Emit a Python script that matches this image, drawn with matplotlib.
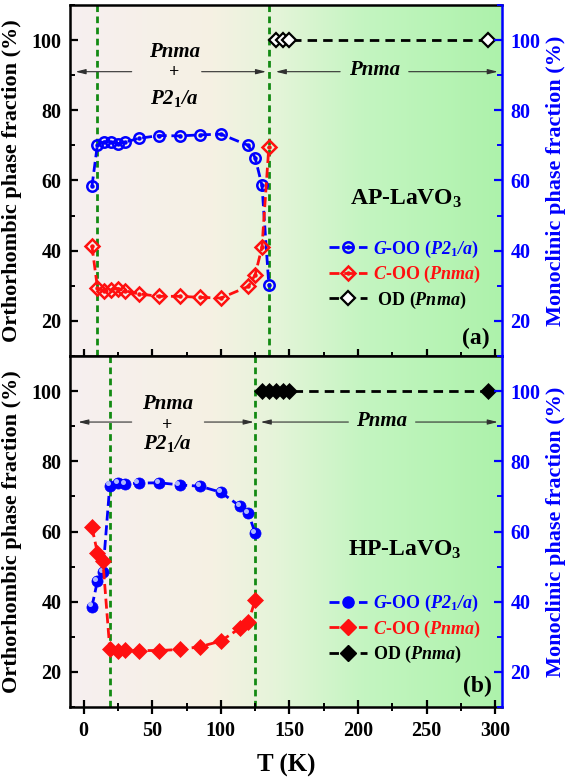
import numpy as np
import matplotlib
matplotlib.use("Agg")
import matplotlib.pyplot as plt
from matplotlib.colors import LinearSegmentedColormap
from matplotlib.legend_handler import HandlerTuple
from matplotlib.lines import Line2D
from matplotlib.ticker import MultipleLocator
from matplotlib.transforms import ScaledTranslation

plt.rcParams.update({
    "font.family": ["Liberation Serif", "DejaVu Serif"],
    "font.weight": "bold",
    "axes.labelweight": "bold",
    "mathtext.fontset": "custom",
    "mathtext.rm": "Liberation Serif:bold",
    "mathtext.it": "Liberation Serif:italic:bold",
    "mathtext.bf": "Liberation Serif:bold",
    "mathtext.bfit": "Liberation Serif:italic:bold",
})

# ---- (a) ambient-pressure LaVO3 ----
T_a = [6, 10, 15, 20, 25, 30, 40, 55, 70, 85, 100, 120, 125, 130, 135]
goo_a = [58.3, 70.2, 71.0, 71.0, 70.5, 70.9, 72.0, 72.8, 72.7, 73.0, 73.2, 70.0, 66.5, 58.6, 30.2]
coo_a = [41.4, 29.5, 28.4, 28.9, 29.2, 28.6, 27.7, 27.0, 27.0, 26.7, 26.5, 29.8, 33.1, 41.0, 69.5]
T_od_a = [140, 145, 150, 295]
od_a = [100, 100, 100, 100]
trans_a = [10, 135]

# ---- (b) high-pressure LaVO3 ----
T_b = [6, 10, 14, 19, 25, 30, 40, 55, 70, 85, 100, 114, 120, 125]
goo_b = [38.6, 45.9, 48.5, 73.1, 73.8, 73.6, 73.8, 73.9, 73.3, 72.9, 71.2, 67.2, 65.3, 59.6]
coo_b = [61.2, 54.0, 51.5, 26.6, 26.1, 26.2, 26.1, 26.1, 26.4, 27.2, 28.8, 32.5, 34.2, 40.4]
T_od_b = [130, 135, 140, 145, 150, 295]
od_b = [100, 100, 100, 100, 100, 100]
trans_b = [19, 125]

x_ticks = [0, 50, 100, 150, 200, 250, 300]
y_ticks = [20, 40, 60, 80, 100]

BLUE = "#0000ff"
RED = "#ff1010"
GREEN = "#138a13"

bg_cmap = LinearSegmentedColormap.from_list(
    "bg", [(0.0, "#f7eff0"), (0.33, "#f5f1e3"), (0.47, "#e6f4da"),
           (0.68, "#c4f5c1"), (1.0, "#adf2ab")])

fig = plt.figure(figsize=(5.69, 7.81), dpi=100)
ax_a = fig.add_axes([0.1230, 0.5442, 0.7592, 0.4494])
ax_b = fig.add_axes([0.1230, 0.0947, 0.7592, 0.4494])

lbl_l = "Orthorhombic phase fraction (%)"
lbl_r = "Monoclinic phase fraction (%)"


def arrow(ax, x0, x1, y):
    ax.annotate("", xy=(x1, y), xytext=(x0, y),
                arrowprops=dict(arrowstyle="-|>,head_length=0.6,head_width=0.15",
                                color="#303030", lw=0.8, shrinkA=0, shrinkB=0,
                                mutation_scale=10), zorder=4)


def frame(ax, show_xlabels):
    ax.set_xlim(-10, 305)
    ax.set_ylim(10, 110)
    grad = np.linspace(0, 1, 512).reshape(1, -1)
    ax.imshow(grad, cmap=bg_cmap, aspect="auto", extent=(0, 1, 0, 1),
              transform=ax.transAxes, zorder=0)
    ax.set_xticks(x_ticks)
    ax.xaxis.set_minor_locator(MultipleLocator(25))
    ax.set_yticks(y_ticks)
    ax.yaxis.set_minor_locator(MultipleLocator(10))
    ax.tick_params(axis="x", which="major", direction="inout", length=10, width=1.6,
                   labelsize=14.5, pad=5, top=False, labelbottom=show_xlabels)
    ax.tick_params(axis="x", which="minor", direction="inout", length=6, width=1.4, top=False)
    ax.tick_params(axis="y", which="major", direction="in", length=6, width=1.6,
                   labelsize=14.5, pad=6, right=False)
    ax.tick_params(axis="y", which="minor", direction="in", length=3.5, width=1.4, right=False)
    for s in ("left", "top", "bottom"):
        ax.spines[s].set_linewidth(1.8)
        ax.spines[s].set_zorder(6)
    ax.spines["right"].set_visible(False)
    ax.set_ylabel(lbl_l, fontsize=16, fontweight="bold")
    ax.yaxis.set_label_coords(-0.134, 0.5)
    ax.yaxis.label.set_va("center")

    tw = ax.twinx()
    tw.set_ylim(10, 110)
    tw.set_yticks(y_ticks)
    tw.yaxis.set_minor_locator(MultipleLocator(10))
    tw.tick_params(axis="y", which="major", direction="in", length=6, width=1.6,
                   labelsize=14.5, pad=6, colors=BLUE)
    tw.tick_params(axis="y", which="minor", direction="in", length=3.5, width=1.4, colors=BLUE)
    for s in ("left", "top", "bottom"):
        tw.spines[s].set_visible(False)
    tw.spines["right"].set_color(BLUE)
    tw.spines["right"].set_linewidth(1.8)
    tw.set_ylabel(lbl_r, fontsize=16, fontweight="bold", color=BLUE, rotation=90)
    tw.yaxis.set_label_coords(1.125, 0.5)
    tw.yaxis.label.set_va("center")
    return tw


frame(ax_a, False)
frame(ax_b, True)
ax_b.set_xlabel("T (K)", fontsize=18, fontweight="bold", labelpad=9)

dash = (0, (3.6, 1.7))
od_dash = (0, (3.4, 2.2))
green_dash = (0, (2.4, 1.6))

# ---------------- panel (a) ----------------
for t in trans_a:
    ax_a.axvline(t, color=GREEN, lw=2, ls=green_dash, zorder=1)
ax_a.plot(T_a, goo_a, color=BLUE, lw=2, ls=dash, marker="o", ms=7.5,
          mfc="none", mec=BLUE, mew=1.8, zorder=3)
ax_a.plot(T_a, goo_a, ls="none", marker="o", ms=2.2, color=BLUE, zorder=3)
ax_a.plot(T_a, coo_a, color=RED, lw=2, ls=dash, marker="D", ms=7.5,
          mfc="none", mec=RED, mew=1.8, zorder=3)
ax_a.plot(T_a, coo_a, ls="none", marker="o", ms=2.2, color=RED, zorder=3)
ax_a.plot(T_od_a, od_a, color="black", lw=2, ls=od_dash, marker="D", ms=7.5,
          mfc="white", mec="black", mew=1.6, zorder=3)

# ---------------- panel (b) ----------------
for t in trans_b:
    ax_b.axvline(t, color=GREEN, lw=2, ls=green_dash, zorder=1)
ax_b.plot(T_b, goo_b, color=BLUE, lw=2, ls=dash, marker="o", ms=8,
          mfc=BLUE, mec=BLUE, mew=0.5, zorder=3)
shine = ax_b.transData + ScaledTranslation(-1.6 / 72, 1.6 / 72, fig.dpi_scale_trans)
ax_b.plot(T_b, goo_b, ls="none", marker="o", ms=2.6, color="#b9c4ff",
          alpha=0.9, transform=shine, zorder=3)
ax_b.plot(T_b, coo_b, color=RED, lw=2, ls=dash, marker="D", ms=8.5,
          mfc=RED, mec=RED, mew=0.5, zorder=3)
ax_b.plot(T_od_b, od_b, color="black", lw=2, ls=od_dash, marker="D", ms=8.5,
          mfc="black", mec="black", mew=0.5, zorder=3)

# ---------------- region labels ----------------
mixed = r"$\mathbfit{P2}_{1}\mathbfit{/a}$"
for ax, xc, ys, lx, rx, px, lx2, rx2, yp in (
        (ax_a, 66, (96.7, 90.7, 83.4), (35, -6), (86, 133), 212, (187, 140), (237, 302), 91),
        (ax_b, 61, (96.4, 90.2, 85.0), (35, -4), (88, 124), 217, (193, 129), (242, 302), 91.2)):
    ax.text(xc, ys[0], "Pnma", fontsize=15, fontstyle="italic", fontweight="bold",
            ha="center", va="center", zorder=5)
    ax.text(xc, ys[1], "+", fontsize=13, fontweight="bold", ha="center", va="center", zorder=5)
    ax.text(xc, ys[2], mixed, fontsize=15, ha="center", va="center", zorder=5)
    arrow(ax, lx[0], lx[1], yp)
    arrow(ax, rx[0], rx[1], yp)
    ax.text(px, yp + 0.4, "Pnma", fontsize=15, fontstyle="italic", fontweight="bold",
            ha="center", va="center", zorder=5)
    arrow(ax, lx2[0], lx2[1], yp)
    arrow(ax, rx2[0], rx2[1], yp)

ax_a.text(235, 54.8, r"AP-LaVO$_3$", fontsize=17, ha="center", va="center", zorder=5)
ax_b.text(234, 54.8, r"HP-LaVO$_3$", fontsize=17, ha="center", va="center", zorder=5)
ax_a.text(286, 14.9, "(a)", fontsize=17, ha="center", va="center", zorder=5)
ax_b.text(287, 15.9, "(b)", fontsize=17, ha="center", va="center", zorder=5)

# ---------------- legends ----------------
lab_g = r"$\mathbfit{G}$-OO ($\mathbfit{P2}_{1}\mathbfit{/a}$)"
lab_c = r"$\mathbfit{C}$-OO ($\mathbfit{Pnma}$)"
lab_od = r"OD ($\mathbfit{Pnma}$)"

hg_a = (Line2D([], [], color=BLUE, lw=2, ls=dash, marker="o", ms=7.5, mfc="none", mec=BLUE, mew=1.8),
        Line2D([], [], ls="none", marker="o", ms=2.2, color=BLUE))
hc_a = (Line2D([], [], color=RED, lw=2, ls=dash, marker="D", ms=7.5, mfc="none", mec=RED, mew=1.8),
        Line2D([], [], ls="none", marker="o", ms=2.2, color=RED))
ho_a = Line2D([], [], color="black", lw=2, ls=od_dash, marker="D", ms=7.5, mfc="white", mec="black", mew=1.6)

hg_b = Line2D([], [], color=BLUE, lw=2, ls=dash, marker="o", ms=8, mfc=BLUE, mec=BLUE)
hc_b = Line2D([], [], color=RED, lw=2, ls=dash, marker="D", ms=8.5, mfc=RED, mec=RED)
ho_b = Line2D([], [], color="black", lw=2, ls=od_dash, marker="D", ms=8.5, mfc="black", mec="black")

for ax, hs, labs, anchor in (
        (ax_a, (hg_a, hc_a, ho_a), (lab_g, lab_c, " " + lab_od), (0.60, 0.335)),
        (ax_b, (hg_b, hc_b, ho_b), (lab_g, lab_c, lab_od), (0.60, 0.325))):
    leg = ax.legend(hs, labs, handler_map={tuple: HandlerTuple(ndivide=1)},
                    loc="upper left", bbox_to_anchor=anchor, frameon=False,
                    fontsize=13, handlelength=2.1, handletextpad=0.35,
                    labelspacing=0.25, borderpad=0, borderaxespad=0)
    leg.set_zorder(7)
    for txt, c in zip(leg.get_texts(), (BLUE, RED, "black")):
        txt.set_color(c)

fig.savefig("out.png", dpi=100)
